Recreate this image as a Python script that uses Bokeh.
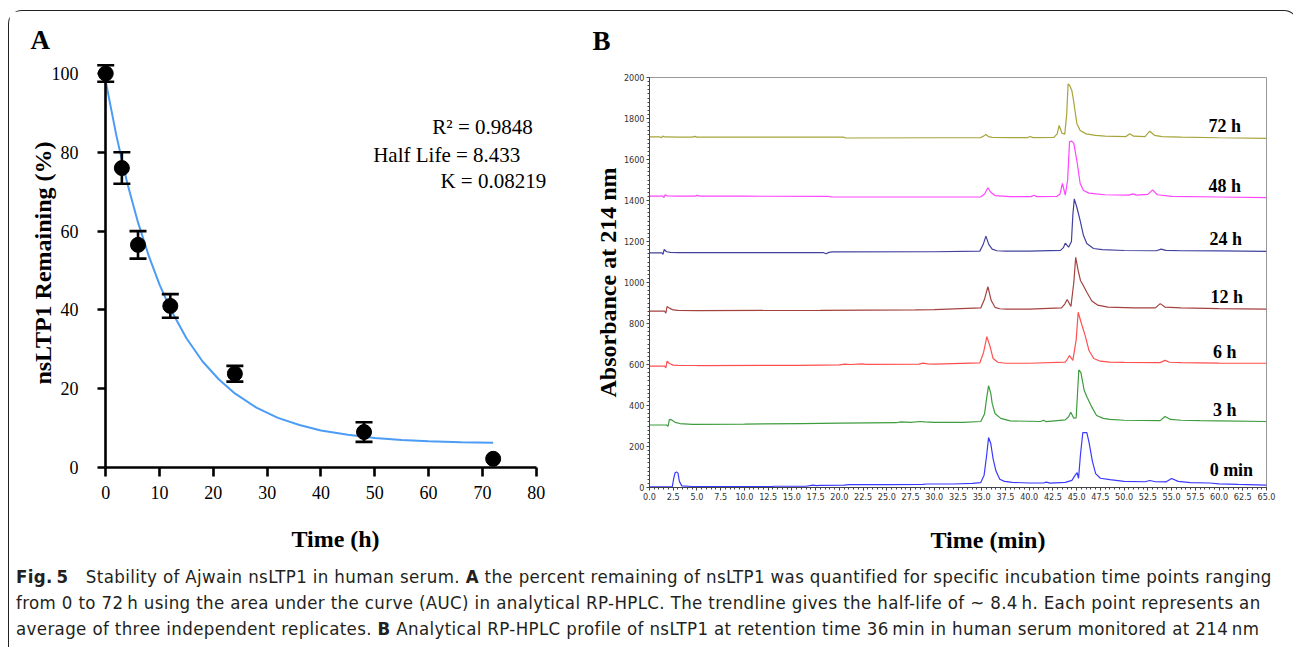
from bokeh.plotting import figure
from bokeh.models import (Range1d, FixedTicker, SingleIntervalTicker, NumeralTickFormatter,
                          Whisker, TeeHead, ColumnDataSource, Label, Div, LinearAxis)
from bokeh.layouts import row, column
from bokeh.embed import file_html
from bokeh.resources import INLINE
from bokeh.core.properties import value

SERIF = "Liberation Serif"
NARROW = "Liberation Sans Narrow, DejaVu Sans Condensed, Roboto Condensed, sans-serif"
CAPFONT = "'Liberation Sans Narrow', 'DejaVu Sans Condensed', 'Roboto Condensed', Roboto, sans-serif"

# ---------------- Panel A data ----------------
time_h = [0, 3, 6, 12, 24, 48, 72]
remaining = [100.0, 76.0, 56.5, 41.0, 23.8, 9.0, 2.2]
sem = [2.1, 4.0, 3.5, 3.0, 2.0, 2.5, 0.0]
fit_t = [0, 2, 4, 6, 8, 10, 12, 15, 18, 21, 24, 28, 32, 36, 40, 45, 50, 55, 60, 66, 72]
fit_y = [98.0, 84.1, 72.2, 62.2, 53.7, 46.4, 40.3, 32.8, 26.9, 22.4, 18.8, 15.2, 12.6,
         10.8, 9.4, 8.3, 7.5, 7.0, 6.66, 6.4, 6.25]
x_ticks_a = [0, 10, 20, 30, 40, 50, 60, 70, 80]
y_ticks_a = [0, 20, 40, 60, 80, 100]
stats_lines = ["R\u00b2 = 0.9848", "Half Life = 8.433", "K = 0.08219"]

# ---------------- Panel B data (time min, absorbance) ----------------
trace_0min = [(0, 3), (1.0, 3), (2.4, 3), (2.55, 45), (2.7, 72), (2.85, 76), (3.0, 70), (3.15, 30),
              (3.4, 8), (4.5, 5), (8.0, 4), (12.8, 4), (13.2, 6), (16.5, 6), (17.2, 12), (17.6, 9),
              (18.0, 10), (20.5, 12), (21.0, 14), (25.0, 14), (28.8, 15), (29.2, 17), (32.0, 17),
              (34.0, 20), (34.9, 24), (35.25, 60), (35.5, 150), (35.72, 244), (35.95, 215),
              (36.2, 140), (36.5, 80), (36.9, 40), (37.4, 30), (38.2, 25), (40.0, 22), (41.5, 22),
              (41.8, 26), (42.2, 21), (43.8, 25), (44.5, 35), (44.85, 60), (45.05, 72), (45.2, 45),
              (45.4, 160), (45.65, 268), (46.07, 268), (46.3, 221), (46.65, 130), (47.0, 68),
              (47.5, 45), (48.5, 38), (50.0, 30), (52.2, 28), (52.7, 34), (53.3, 28), (54.4, 27),
              (55.0, 44), (55.7, 30), (57.0, 24), (59.0, 22), (60.0, 18), (62.0, 15), (65.0, 12)]
trace_3h = [(0, 305), (1.8, 305), (1.95, 298), (2.1, 332), (2.3, 330), (2.7, 318), (3.2, 312),
            (4.5, 308), (10, 309), (16, 312), (20, 314), (26, 316), (26.5, 320), (27.5, 318),
            (28.5, 322), (29, 320), (30, 318), (33, 318), (34.9, 322), (35.3, 360), (35.5, 430),
            (35.72, 497), (35.95, 460), (36.1, 410), (36.4, 361), (37, 337), (38, 325), (41.2, 322),
            (41.5, 328), (41.8, 321), (43.8, 330), (44.15, 345), (44.38, 367), (44.7, 338),
            (44.95, 340), (45.08, 450), (45.23, 574), (45.45, 560), (45.8, 473), (46.1, 440),
            (46.6, 392), (47.1, 351), (47.8, 337), (48.5, 332), (50, 328), (53.8, 326), (54.3, 346),
            (54.9, 332), (56, 328), (58, 326), (60, 325), (65, 322)]
trace_6h = [(0, 592), (1.6, 592), (1.72, 583), (1.85, 616), (2.1, 605), (2.5, 597), (3, 596),
            (5, 595), (16, 596), (20, 598), (20.6, 602), (21.2, 600), (22.4, 603), (22.8, 601),
            (28.4, 602), (28.8, 607), (29.3, 603), (30, 602), (34.8, 608), (35.2, 660), (35.54, 736),
            (35.9, 684), (36.2, 629), (36.7, 611), (37.5, 606), (40, 606), (43.8, 612), (44.05, 628),
            (44.24, 644), (44.6, 620), (44.95, 720), (45.16, 855), (45.5, 800), (45.9, 741),
            (46.3, 668), (46.8, 629), (47.5, 616), (48.5, 612), (50, 610), (53.8, 609), (54.3, 620),
            (54.8, 611), (56, 609), (60, 607), (65, 606)]
trace_12h = [(0, 860), (1.6, 860), (1.72, 850), (1.85, 883), (2.1, 875), (2.5, 866), (3, 864),
             (5, 863), (18, 864), (28, 866), (30, 868), (34.9, 876), (35.3, 920), (35.65, 980),
             (36, 912), (36.4, 879), (36.9, 872), (37.6, 870), (40, 870), (43.4, 876), (43.75, 895),
             (44, 917), (44.4, 883), (44.7, 1000), (44.9, 1123), (45.15, 1060), (45.4, 1010),
             (45.7, 985), (46.1, 950), (46.6, 910), (47.2, 890), (48.3, 880), (51, 876), (53.3, 876),
             (53.8, 897), (54.3, 880), (56, 876), (60, 873), (65, 870)]
trace_24h = [(0, 1145), (1.3, 1145), (1.42, 1137), (1.55, 1161), (1.8, 1150), (2.2, 1147),
             (3, 1146), (10, 1146), (18.3, 1146), (18.6, 1140), (18.9, 1147), (19.3, 1149),
             (30, 1150), (34.8, 1153), (35.15, 1185), (35.44, 1226), (35.75, 1185), (36.1, 1163),
             (36.6, 1155), (37.5, 1153), (40, 1153), (43.3, 1157), (43.6, 1170), (43.8, 1192),
             (44.15, 1172), (44.45, 1200), (44.6, 1330), (44.75, 1408), (45.02, 1367), (45.37, 1302),
             (45.72, 1229), (46.07, 1190), (46.77, 1166), (47.7, 1160), (50, 1156), (53.4, 1155),
             (53.9, 1163), (54.4, 1157), (56, 1155), (60, 1154), (65, 1152)]
trace_48h = [(0, 1421), (1.4, 1421), (1.52, 1414), (1.65, 1428), (1.9, 1422), (3, 1421),
             (4.8, 1421), (5, 1425), (5.3, 1421), (10, 1421), (18.8, 1420), (19.2, 1417),
             (30, 1417), (34.9, 1418), (35.3, 1432), (35.65, 1462), (35.95, 1440), (36.4, 1424),
             (38, 1419), (40.2, 1419), (40.5, 1426), (40.8, 1419), (42.9, 1420), (43.25, 1432),
             (43.5, 1484), (43.8, 1426), (44.05, 1500), (44.25, 1686), (44.45, 1690), (44.7, 1680),
             (45.02, 1595), (45.37, 1483), (45.72, 1449), (46.3, 1436), (47, 1432), (48, 1428),
             (50.5, 1426), (50.9, 1432), (51.3, 1426), (52.5, 1430), (53, 1452), (53.5, 1428),
             (55, 1420), (60, 1417), (65, 1414)]
trace_72h = [(0, 1710), (1.1, 1710), (1.25, 1706), (1.4, 1714), (1.6, 1710), (3, 1709),
             (4.5, 1709), (4.75, 1713), (5, 1709), (10, 1709), (20.4, 1709), (20.7, 1705),
             (30, 1706), (34.9, 1707), (35.2, 1714), (35.44, 1722), (35.7, 1712), (36.1, 1708),
             (38, 1707), (39.8, 1707), (40.1, 1712), (40.4, 1707), (42.6, 1708), (42.95, 1725),
             (43.16, 1766), (43.45, 1728), (43.75, 1724), (43.95, 1820), (44.1, 1969), (44.25, 1962),
             (44.49, 1937), (44.67, 1888), (45.02, 1776), (45.37, 1741), (46, 1725), (47, 1718),
             (48, 1714), (50.2, 1712), (50.6, 1726), (51, 1714), (52.2, 1712), (52.7, 1738),
             (53.2, 1718), (54, 1712), (56, 1709), (60, 1706), (65, 1703)]
trace_names = ["0 min", "3 h", "6 h", "12 h", "24 h", "48 h", "72 h"]
trace_colors = ["#3a3aff", "#3d9c3d", "#ff4f4f", "#a3423f", "#42429e", "#ff45ff", "#a8a43c"]
traces = [trace_0min, trace_3h, trace_6h, trace_12h, trace_24h, trace_48h, trace_72h]

caption_lines = [
    [("b", "Fig.\u20095"), ("n", "\u2002\u2002Stability of Ajwain nsLTP1 in human serum. "), ("b", "A"),
     ("n", " the percent remaining of nsLTP1 was quantified for specific incubation time points ranging")],
    [("n", "from 0 to 72\u2009h using the area under the curve (AUC) in analytical RP-HPLC. The trendline "
           "gives the half-life of ~ 8.4\u2009h. Each point represents an")],
    [("n", "average of three independent replicates. "), ("b", "B"),
     ("n", " Analytical RP-HPLC profile of nsLTP1 at retention time 36\u2009min in human serum monitored at 214\u2009nm")],
]

# ================= Panel A =================
pa = figure(frame_width=504, frame_height=409, min_border_left=74, min_border_right=4,
            min_border_top=47, min_border_bottom=91,
            x_range=Range1d(-4.13, 89.53), y_range=Range1d(0, 103.8),
            output_backend="svg", toolbar_location=None)
pa.frame_align = False
pa.grid.visible = False
pa.outline_line_color = None
pa.background_fill_color = "white"
pa.border_fill_color = "white"

pa.title.text = "A"
pa.title.align = "left"
pa.title.offset = -53
pa.title.standoff = 8
pa.title.text_font = SERIF
pa.title.text_font_size = "27px"
pa.title.text_font_style = "bold"
pa.title.text_color = "black"

for ax in (pa.xaxis[0], pa.yaxis[0]):
    ax.axis_line_width = 2.6
    ax.axis_line_color = "black"
    ax.major_tick_line_width = 2.6
    ax.major_tick_line_color = "black"
    ax.major_tick_out = 9
    ax.major_tick_in = 0
    ax.minor_tick_out = 0
    ax.minor_tick_in = 0
    ax.major_label_text_font = SERIF
    ax.major_label_text_font_size = "18px"
    ax.major_label_text_color = "black"
    ax.major_label_standoff = 4
    ax.axis_label_text_font = SERIF
    ax.axis_label_text_font_style = "bold"
    ax.axis_label_text_color = "black"

pa.xaxis.ticker = FixedTicker(ticks=x_ticks_a)
pa.xaxis.bounds = (0, 80)
pa.xaxis.major_label_standoff = 9
pa.xaxis.axis_label = "Time (h)"
pa.xaxis.axis_label_text_font_size = "24px"
pa.xaxis.axis_label_standoff = 24

# left axis: ticks and labels shifted so that they sit at x = 0
ya = pa.yaxis[0]
ya.ticker = FixedTicker(ticks=y_ticks_a)
ya.axis_line_color = None
ya.major_tick_out = -14
ya.major_tick_in = 22
ya.minor_tick_out = -14
ya.major_label_standoff = 5
ya.axis_label = "nsLTP1 Remaining (%)"
ya.axis_label_text_font_size = "24px"
ya.axis_label_standoff = -7

# axis line drawn at x = 0
yline = LinearAxis(fixed_location=0, ticker=FixedTicker(ticks=[]), bounds=(0, 100),
                   axis_line_width=2.6, axis_line_color="black",
                   major_tick_out=0, major_tick_in=0, minor_tick_out=0, minor_tick_in=0,
                   major_label_text_font_size="0px")
pa.add_layout(yline, "left")

pa.line(fit_t, fit_y, line_color="#4c9cf5", line_width=2)

wb = [t for t, e in zip(time_h, sem) if e > 0]
wu = [r + e for r, e in zip(remaining, sem) if e > 0]
wl = [r - e for r, e in zip(remaining, sem) if e > 0]
wsrc = ColumnDataSource(dict(base=wb, upper=wu, lower=wl))
pa.add_layout(Whisker(source=wsrc, base="base", upper="upper", lower="lower",
                      line_width=2.6, line_color="black", level="glyph",
                      upper_head=TeeHead(size=17, line_width=2.6, line_color="black"),
                      lower_head=TeeHead(size=17, line_width=2.6, line_color="black")))
pa.scatter(time_h, remaining, size=15, color="black")

stat_pos = [(60.7, 86.3), (49.7, 79.2), (62.2, 72.6)]
for (sx, sy), txt in zip(stat_pos, stats_lines):
    pa.add_layout(Label(x=sx, y=sy, text=txt, text_font=SERIF, text_font_size="21px",
                        text_color="black", text_baseline="middle", text_align="left"))

# ================= Panel B =================
pb = figure(frame_width=617, frame_height=410, min_border_left=58, min_border_right=21,
            min_border_top=74, min_border_bottom=71,
            x_range=Range1d(0, 65), y_range=Range1d(0, 2000),
            output_backend="svg", toolbar_location=None)
pb.margin = (-8, 0, 0, 0)
pb.frame_align = False
pb.grid.visible = False
pb.outline_line_color = "#999999"
pb.outline_line_width = 1
pb.border_fill_alpha = 0
pb.background_fill_color = "white"

pb.title.text = "B"
pb.title.align = "left"
pb.title.vertical_align = "middle"
pb.title.offset = -57
pb.title.standoff = 41
pb.title.text_font = SERIF
pb.title.text_font_size = "27px"
pb.title.text_font_style = "bold"
pb.title.text_color = "black"

for ax in (pb.xaxis[0], pb.yaxis[0]):
    ax.axis_line_color = "#444444"
    ax.axis_line_width = 1
    ax.major_tick_line_color = "#444444"
    ax.minor_tick_line_color = "#444444"
    ax.major_tick_out = 3
    ax.major_tick_in = 0
    ax.minor_tick_out = 2
    ax.minor_tick_in = 0
    ax.major_label_text_font = NARROW
    ax.major_label_text_font_size = "9px"
    ax.major_label_text_color = "#333333"
    ax.major_label_standoff = 2
    ax.axis_label_text_font = SERIF
    ax.axis_label_text_font_style = "bold"
    ax.axis_label_text_color = "black"

pb.xaxis.ticker = SingleIntervalTicker(interval=2.5, num_minor_ticks=5)
pb.xaxis.formatter = NumeralTickFormatter(format="0.0")
# leading em spaces shift the centred label to the right, as in the original
pb.xaxis.axis_label = "\u2003\u2003\u2002Time (min)"
pb.xaxis.axis_label_text_font_size = "24px"
pb.xaxis.axis_label_standoff = 24
pb.yaxis.ticker = SingleIntervalTicker(interval=200, num_minor_ticks=10)
pb.yaxis.axis_label = "Absorbance at 214 nm"
pb.yaxis.axis_label_text_font_size = "24px"
pb.yaxis.axis_label_standoff = 0

for tr, col in zip(traces, trace_colors):
    pb.line([p[0] for p in tr], [p[1] for p in tr], line_color=col, line_width=1.2)

lab_pos = [(61.3, 83), (60.6, 380), (60.6, 659), (60.8, 927), (60.7, 1210), (60.6, 1473), (60.6, 1761)]
pb.text(x=[p[0] for p in lab_pos], y=[p[1] for p in lab_pos], text=trace_names,
        text_font=value(SERIF), text_font_style="bold", text_font_size="18px",
        text_color="black", text_align="center", text_baseline="middle")

# ================= Caption =================
def seg_html(kind, s):
    s = s.replace("  ", "&nbsp;&nbsp;")
    return f"<b>{s}</b>" if kind == "b" else s

cap_html = "<br>".join("".join(seg_html(k, s) for k, s in line) for line in caption_lines)
cap = Div(text=(f'<div style="font-family:{CAPFONT};font-size:18.5px;letter-spacing:0.37px;'
                f'line-height:26px;padding:1px 0 0 2px;white-space:nowrap;color:#231f20;">{cap_html}</div>'),
          width=1278, height=81)

layout = column(row(pa, pb), cap, margin=(10, 0, 0, 8),
                styles={"border": "1.3px solid #222", "border-bottom": "none",
                        "border-radius": "14px 14px 0 0", "background": "white"})

open("out.html", "w").write(file_html(layout, INLINE))
